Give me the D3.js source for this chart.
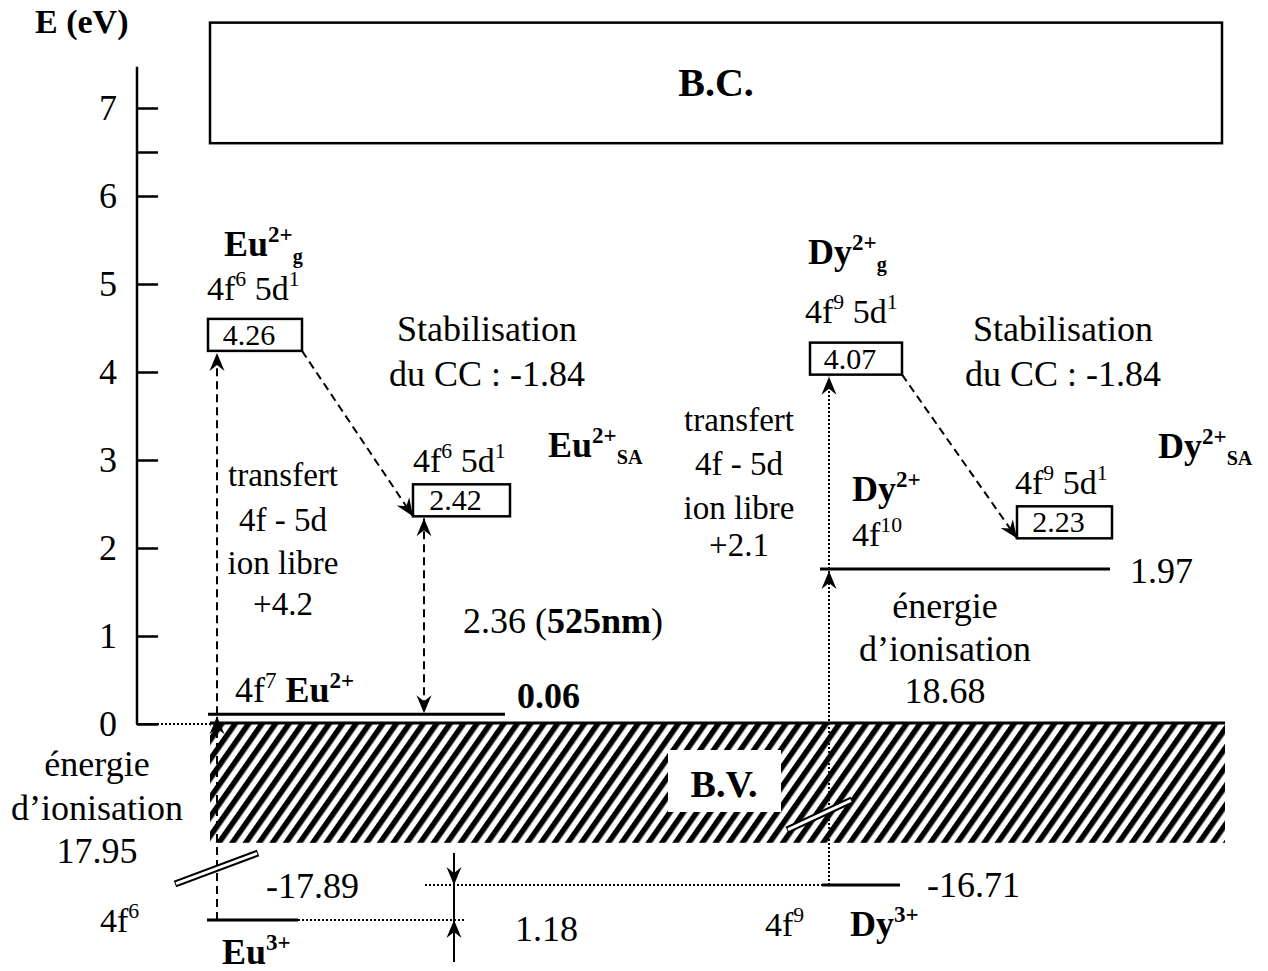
<!DOCTYPE html>
<html>
<head>
<meta charset="utf-8">
<script src="https://cdn.jsdelivr.net/npm/d3@7"></script>
<style>
  body { margin: 0; background: #fff; }
  svg text { font-family: "Liberation Serif", "Times New Roman", serif; fill: #000; }
</style>
</head>
<body>
<svg id="chart"></svg>
<script>
// axis ticks (eV)
const yTicks = [0, 1, 2, 3, 4, 5, 6, 6.5, 7];
const yTickLabels = ["0", "1", "2", "3", "4", "5", "6", "", "7"];

// bands (eV, as drawn)
const bandBC = [6.6, 7.97];
const bandBV = [0, -1.35];

// 5d boxes: label, drawn level (eV)   order: Eu gas, Eu SA, Dy gas, Dy SA
const boxLabels = ["4.26", "2.42", "4.07", "2.23"];
const boxLevels = [4.24, 2.36, 3.97, 2.11];

// 4f ground lines above the valence band: Eu2+ 4f7, Dy2+ 4f10
const lineLabels = ["0.06", "1.97"];
const lineLevels = [0.11, 1.76];

// 4f levels of the trivalent ions (below the break)
const lowLabels = ["-17.89", "-16.71"];
const lowLevels = [-17.89, -16.71];

const width = 1268, height = 971;
const svg = d3.select("#chart").attr("width", width).attr("height", height);

// main energy scale and the one below the axis break
let y = d3.scaleLinear().domain([0, 7.5]).range([724, 64]);
let yLow = d3.scaleLinear().domain([-18.5, -16]).range([938, 864]);

// layout (px)
const X = {
    axis: 137, bandL: 210, bcR: 1222, bvR: 1225,
    euBoxL: 208, euBoxR: 302, euV: 217, euSaL: 413, euSaR: 510, euDbl: 424, euLineR: 505,
    dyBoxL: 810, dyBoxR: 902, dyV: 829, dySaL: 1017, dySaR: 1112, dyLineL: 820, dyLineR: 1110,
    eu3L: 207, eu3R: 298, eu3Dot: 465, dy3L: 822, dy3R: 900, dy3Dot: 425, gap: 454
}
const boxX = [[X.euBoxL, X.euBoxR], [X.euSaL, X.euSaR], [X.dyBoxL, X.dyBoxR], [X.dySaL, X.dySaR]];
const boxH = 32;

let defs = svg.append("defs");
defs.append("marker").attr("id", "arr")
    .attr("viewBox", "-20 -10 22 20").attr("markerUnits", "userSpaceOnUse")
    .attr("markerWidth", 22).attr("markerHeight", 20)
    .attr("refX", 0).attr("refY", 0).attr("orient", "auto-start-reverse")
    .append("path").attr("d", "M0,0L-18,-7.5L-12,0L-18,7.5Z").attr("fill", "#000");

let pat = defs.append("pattern").attr("id", "hatch")
    .attr("patternUnits", "userSpaceOnUse").attr("width", 11).attr("height", 11)
    .attr("patternTransform", "rotate(35)");
pat.append("rect").attr("x", 0).attr("y", 0).attr("width", 5.5).attr("height", 11).attr("fill", "#000");

// ---- helper for text with super / subscripts
function rich(x, yy, parts, size, anchor) {
    let t = svg.append("text").attr("x", x).attr("y", yy)
        .attr("text-anchor", anchor || "start").attr("font-size", size);
    let off = 0;
    parts.forEach(p => {
        let kind = p[1] || "";
        let target = 0, fs = size;
        if (kind.includes("sup")) { target = -size * 0.4; fs = size * 0.64; }
        if (kind.includes("sub")) { target = size * 0.2; fs = size * 0.56; }
        t.append("tspan").text(p[0])
            .attr("dy", target - off)
            .attr("font-size", fs)
            .attr("font-weight", kind.startsWith("b") ? "bold" : "normal");
        off = target;
    });
    return t;
}
function lines(x, ys, strs, size) {
    strs.forEach((s, i) => rich(x, ys[i], [[s]], size, "middle"));
}

const FS = 36, FS4 = 34, FST = 33;

// ---- conduction band
svg.append("rect")
    .attr("x", X.bandL).attr("y", y(bandBC[1]))
    .attr("width", X.bcR - X.bandL).attr("height", y(bandBC[0]) - y(bandBC[1]))
    .attr("fill", "none").attr("stroke", "#000").attr("stroke-width", 2.5);
rich((X.bandL + X.bcR) / 2, (y(bandBC[0]) + y(bandBC[1])) / 2 + 13, [["B.C.", "b"]], 40, "middle");

// ---- valence band (hatched)
svg.append("rect")
    .attr("x", X.bandL).attr("y", y(bandBV[0]))
    .attr("width", X.bvR - X.bandL).attr("height", y(bandBV[1]) - y(bandBV[0]))
    .attr("fill", "url(#hatch)");
svg.append("line").attr("x1", X.bandL).attr("x2", X.bvR)
    .attr("y1", y(0) - 1).attr("y2", y(0) - 1).attr("stroke", "#000").attr("stroke-width", 3);
svg.append("rect").attr("x", 668).attr("y", 750).attr("width", 113).attr("height", 62).attr("fill", "#fff");
rich(724, 797, [["B.V.", "b"]], 38, "middle");

// ---- axis
let yAxis = d3.axisLeft(y).tickValues(yTicks)
    .tickFormat((d, i) => yTickLabels[i])
    .tickSizeInner(-21).tickSizeOuter(0).tickPadding(20);
let ax = svg.append("g").attr("transform", `translate(${X.axis},0)`).call(yAxis);
ax.select(".domain").remove();
ax.selectAll(".tick line").attr("stroke", "#000").attr("stroke-width", 2.5);
ax.selectAll(".tick text").attr("font-size", FS).attr("font-family", "Liberation Serif").attr("fill", "#000");
svg.append("line").attr("x1", X.axis).attr("x2", X.axis)
    .attr("y1", y(7.47)).attr("y2", y(0)).attr("stroke", "#000").attr("stroke-width", 2.5);
svg.append("line").attr("x1", X.axis - 1).attr("x2", X.axis + 20)
    .attr("y1", y(0)).attr("y2", y(0)).attr("stroke", "#000").attr("stroke-width", 2);
svg.append("line").attr("x1", X.axis + 20).attr("x2", X.bandL)
    .attr("y1", y(0)).attr("y2", y(0)).attr("stroke", "#000").attr("stroke-width", 2)
    .attr("stroke-dasharray", "2,2");
rich(35, 33, [["E (eV)", "b"]], 34);

// ---- 5d boxes
svg.selectAll("rect.box").data(boxLevels).join("rect").attr("class", "box")
    .attr("x", (d, i) => boxX[i][0]).attr("y", d => y(d) - boxH)
    .attr("width", (d, i) => boxX[i][1] - boxX[i][0]).attr("height", boxH)
    .attr("fill", "#fff").attr("stroke", "#000").attr("stroke-width", 2.5);
boxLevels.forEach((d, i) => {
    rich((boxX[i][0] + boxX[i][1]) / 2 - 6, y(d) - 6, [[boxLabels[i]]], 30, "middle");
});

// ---- 4f ground lines
const lineX = [[X.euBoxL, X.euLineR], [X.dyLineL, X.dyLineR]];
svg.selectAll("line.lvl").data(lineLevels).join("line").attr("class", "lvl")
    .attr("x1", (d, i) => lineX[i][0]).attr("x2", (d, i) => lineX[i][1])
    .attr("y1", d => y(d)).attr("y2", d => y(d))
    .attr("stroke", "#000").attr("stroke-width", 3);
rich(517, y(lineLevels[0]) - 6, [[lineLabels[0], "b"]], FS);
rich(1130, y(lineLevels[1]) + 14, [[lineLabels[1]]], FS);

// ---- trivalent levels
const lowX = [[X.eu3L, X.eu3R, X.eu3Dot], [X.dy3L, X.dy3R, X.dy3Dot]];
lowLevels.forEach((d, i) => {
    svg.append("line").attr("x1", lowX[i][0]).attr("x2", lowX[i][1])
        .attr("y1", yLow(d)).attr("y2", yLow(d)).attr("stroke", "#000").attr("stroke-width", 3);
    let dotA = i === 0 ? lowX[i][1] : lowX[i][2];
    let dotB = i === 0 ? lowX[i][2] : lowX[i][0];
    svg.append("line").attr("x1", dotA).attr("x2", dotB)
        .attr("y1", yLow(d)).attr("y2", yLow(d)).attr("stroke", "#000").attr("stroke-width", 2)
        .attr("stroke-dasharray", "2,2");
});
rich(266, yLow(lowLevels[0]) - 22, [[lowLabels[0]]], FS);
rich(927, yLow(lowLevels[1]) + 12, [[lowLabels[1]]], FS);

// ---- arrows
function arrow(x1, y1, x2, y2, dash, head) {
    let l = svg.append("line").attr("x1", x1).attr("y1", y1).attr("x2", x2).attr("y2", y2)
        .attr("stroke", "#000").attr("stroke-width", 2);
    if (dash) l.attr("stroke-dasharray", dash);
    if (head !== false) l.attr("marker-end", "url(#arr)");
    return l;
}
const DASH = "8,5", DOT = "2,2";
// Eu: ionisation and 4f-5d transfer
arrow(X.euV, yLow(lowLevels[0]), X.euV, y(lineLevels[0]) + 2, DASH);
arrow(X.euV, y(lineLevels[0]), X.euV, y(boxLevels[0]) + 2, DASH);
// crystal field stabilisation
arrow(X.euBoxR, y(boxLevels[0]), X.euSaL, y(boxLevels[1]), DASH);
arrow(X.dyBoxR, y(boxLevels[2]), X.dySaL, y(boxLevels[3]), DASH);
// emission 2.36
arrow(X.euDbl, y(boxLevels[1]) + 2, X.euDbl, y(lineLevels[0]) - 1, DASH).attr("marker-start", "url(#arr)");
// Dy: ionisation and 4f-5d transfer
arrow(X.dyV, yLow(lowLevels[1]), X.dyV, y(lineLevels[1]) + 2, DOT);
arrow(X.dyV, y(lineLevels[1]), X.dyV, y(boxLevels[2]) + 2, DOT);
// 1.18 gap
arrow(X.gap, yLow(lowLevels[1]) - 32, X.gap, yLow(lowLevels[1]));
arrow(X.gap, yLow(lowLevels[0]) + 42, X.gap, yLow(lowLevels[0]));
arrow(X.gap, yLow(lowLevels[1]), X.gap, yLow(lowLevels[0]), null, false);

// ---- axis break marks
function brk(x1, y1, x2, y2) {
    svg.append("line").attr("x1", x1).attr("y1", y1).attr("x2", x2).attr("y2", y2)
        .attr("stroke", "#000").attr("stroke-width", 7);
    svg.append("line").attr("x1", x1 + 1).attr("y1", y1 - 0.4).attr("x2", x2 - 1).attr("y2", y2 + 0.4)
        .attr("stroke", "#fff").attr("stroke-width", 3);
}
brk(175, 884, 258, 853);
brk(787, 830, 852, 800);

// ---- labels, Eu side
rich(224, 256, [["Eu", "b"], ["2+", "bsup"], ["g", "bsub"]], FS);
rich(207, 300, [["4f"], ["6", "sup"], [" 5d"], ["1", "sup"]], FS4);
lines(487, [341, 386], ["Stabilisation", "du CC : -1.84"], FS);
rich(413, 472, [["4f"], ["6", "sup"], [" 5d"], ["1", "sup"]], FS4);
rich(548, 457, [["Eu", "b"], ["2+", "bsup"], ["SA", "bsub"]], FS);
lines(283, [486, 531, 574, 615], ["transfert", "4f - 5d", "ion libre", "+4.2"], FST);
rich(463, 633, [["2.36 ("], ["525nm", "b"], [")"]], FS);
rich(235, 702, [["4f"], ["7", "sup"], ["  "], ["Eu", "b"], ["2+", "bsup"]], FS);
lines(97, [776, 820, 863], ["énergie", "d’ionisation", "17.95"], FS);
rich(100, 932, [["4f"], ["6", "sup"]], FS4);
rich(222, 964, [["Eu", "b"], ["3+", "bsup"]], FS);
rich(515, 941, [["1.18"]], FS);

// ---- labels, Dy side
rich(808, 264, [["Dy", "b"], ["2+", "bsup"], ["g", "bsub"]], FS);
rich(805, 323, [["4f"], ["9", "sup"], [" 5d"], ["1", "sup"]], FS4);
lines(1063, [341, 386], ["Stabilisation", "du CC : -1.84"], FS);
lines(739, [431, 475, 519, 556], ["transfert", "4f - 5d", "ion libre", "+2.1"], FST);
rich(852, 501, [["Dy", "b"], ["2+", "bsup"]], FS);
rich(852, 546, [["4f"], ["10", "sup"]], FS4);
rich(1015, 494, [["4f"], ["9", "sup"], [" 5d"], ["1", "sup"]], FS4);
rich(1158, 458, [["Dy", "b"], ["2+", "bsup"], ["SA", "bsub"]], FS);
lines(945, [618, 661, 703], ["énergie", "d’ionisation", "18.68"], FS);
rich(765, 936, [["4f"], ["9", "sup"]], FS4);
rich(850, 936, [["Dy", "b"], ["3+", "bsup"]], FS);
</script>
</body>
</html>
